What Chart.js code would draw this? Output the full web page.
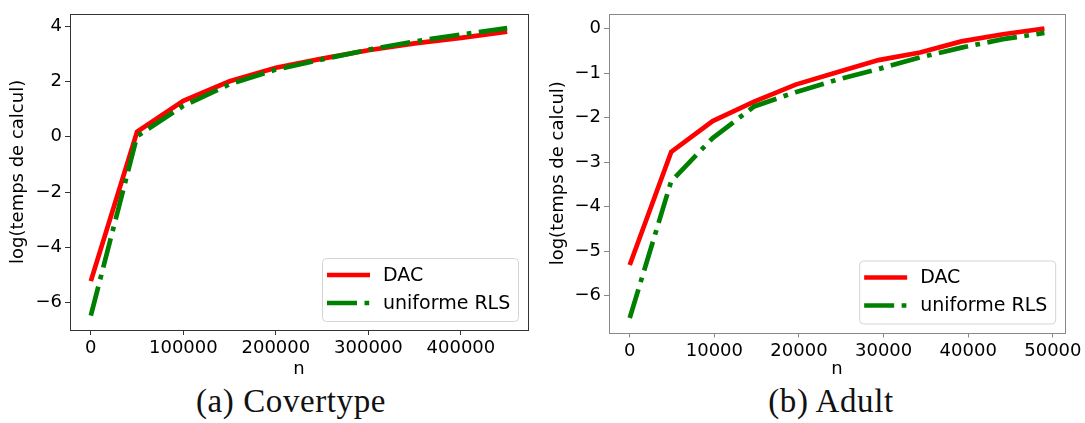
<!DOCTYPE html>
<html>
<head>
<meta charset="utf-8">
<script src="https://cdn.jsdelivr.net/npm/chart.js@4.4.0/dist/chart.umd.min.js"></script>
<style>
  body { margin: 0; background: #fff; width: 1085px; height: 423px; position: relative; overflow: hidden; }
  .graf { position: absolute; top: 0; width: 545px; height: 380px; }
  .legenda { position: absolute; top: 385px; font-family: 'Liberation Serif'; font-size: 33px; line-height: 33px; letter-spacing: 0.6px; color: #111; white-space: nowrap; transform: translateX(-50%); }
</style>
</head>
<body>
<div class="graf" style="left:0"><canvas id="chartCover" width="545" height="380"></canvas></div>
<div class="graf" style="left:540px"><canvas id="chartAdult" width="545" height="380"></canvas></div>
<div class="legenda" style="left:291px">(a) Covertype</div>
<div class="legenda" style="left:831px">(b) Adult</div>
<script>
// dados
var nomesSeries = ['DAC', 'uniforme RLS']

var nCover = [0, 50000, 100000, 150000, 200000, 250000, 300000, 350000, 400000, 450000]
var dacCover = [-5.22, 0.18, 1.30, 2.01, 2.50, 2.83, 3.13, 3.38, 3.58, 3.80]
var rlsCover = [-6.47, 0.02, 1.12, 1.90, 2.43, 2.80, 3.15, 3.45, 3.70, 3.93]
var xTicksCover = [0, 100000, 200000, 300000, 400000]
var yTicksCover = [-6, -4, -2, 0, 2, 4]

var nAdult = [0, 4900, 9800, 14700, 19600, 24500, 29400, 34300, 39200, 44100, 49000]
var dacAdult = [-5.31, -2.77, -2.08, -1.64, -1.26, -0.98, -0.71, -0.54, -0.29, -0.13, 0.0]
var rlsAdult = [-6.50, -3.43, -2.46, -1.75, -1.43, -1.15, -0.91, -0.65, -0.43, -0.24, -0.10]
var xTicksAdult = [0, 10000, 20000, 30000, 40000, 50000]
var yTicksAdult = [-6, -5, -4, -3, -2, -1, 0]

var fonte = { family: 'DejaVu Sans', size: 18 }

function pontos(xs, ys) {
    var lista = []
    for (let i = 0; i < xs.length; i++) {
        lista.push({ x: xs[i], y: ys[i] })
    }
    return lista
}

// margem de 5% como no matplotlib
function limites(arrays) {
    var todos = [].concat.apply([], arrays)
    var min = Math.min.apply(null, todos)
    var max = Math.max.apply(null, todos)
    var m = (max - min) * 0.05
    return [min - m, max + m]
}

function rotulo(v) {
    return v < 0 ? '\u2212' + Math.abs(v) : String(v)
}

// moldura do eixo + legenda dentro da area (canto inferior direito)
var moldura = {
    id: 'moldura',
    afterDatasetsDraw(chart, args, opts) {
        var ctx = chart.ctx
        var a = chart.chartArea
        ctx.save()
        ctx.strokeStyle = opts.cor
        ctx.lineWidth = 1
        ctx.strokeRect(Math.round(a.left) + 0.5, Math.round(a.top) + 0.5, Math.round(a.right - a.left), Math.round(a.bottom - a.top))

        var w = 196, h = 63
        var x0 = a.right - 10 - w
        var y0 = a.bottom - 9 - h
        ctx.beginPath()
        ctx.roundRect(x0 + 0.5, y0 + 0.5, w, h, 4)
        ctx.fillStyle = 'rgba(255,255,255,0.8)'
        ctx.fill()
        ctx.strokeStyle = '#d4d4d4'
        ctx.stroke()

        ctx.font = '19px "DejaVu Sans"'
        ctx.textBaseline = 'middle'
        ctx.fillStyle = '#000'
        chart.data.datasets.forEach(function (ds, i) {
            var y = y0 + 17 + i * 28
            ctx.beginPath()
            ctx.setLineDash(ds.borderDash || [])
            ctx.lineDashOffset = 0
            ctx.strokeStyle = ds.borderColor
            ctx.lineWidth = ds.borderWidth
            ctx.moveTo(x0 + 5, y)
            ctx.lineTo(x0 + 48, y)
            ctx.stroke()
            ctx.setLineDash([])
            ctx.fillText(ds.label, x0 + 61, y + 1)
        })
        ctx.restore()
    }
}

function montarGrafico(id, n, dac, rls, xTicks, yTicks, caixa) {
    var lx = limites([n])
    var ly = limites([dac, rls])
    return new Chart(document.getElementById(id), {
        type: 'line',
        data: {
            datasets: [{
                label: nomesSeries[0],
                data: pontos(n, dac),
                borderColor: '#ff0000',
                borderWidth: 4.7,
                pointRadius: 0,
                tension: 0,
                order: 1
            }, {
                label: nomesSeries[1],
                data: pontos(n, rls),
                borderColor: '#008000',
                borderWidth: 4.7,
                borderDash: [30, 7.5, 4.7, 7.5],
                pointRadius: 0,
                tension: 0,
                order: 0
            }]
        },
        plugins: [moldura],
        options: {
            responsive: false,
            animation: false,
            layout: { padding: { top: caixa.top, right: caixa.right, left: 0, bottom: 0 } },
            scales: {
                x: {
                    type: 'linear',
                    min: lx[0],
                    max: lx[1],
                    afterBuildTicks: function (s) { s.ticks = xTicks.map(function (v) { return { value: v } }) },
                    afterFit: function (s) { s.height = caixa.xAltura },
                    grid: { drawOnChartArea: false, drawTicks: true, tickLength: 5, color: caixa.cor },
                    border: { display: false },
                    ticks: { font: fonte, color: '#000', padding: 3, maxRotation: 0, autoSkip: false, callback: function (v) { return String(v) } },
                    title: { display: true, text: 'n', font: fonte, color: '#000', padding: { top: 0, bottom: 0 } }
                },
                y: {
                    min: ly[0],
                    max: ly[1],
                    afterBuildTicks: function (s) { s.ticks = yTicks.map(function (v) { return { value: v } }) },
                    afterFit: function (s) { s.width = caixa.yLargura },
                    grid: { drawOnChartArea: false, drawTicks: true, tickLength: 5, color: caixa.cor },
                    border: { display: false },
                    ticks: { font: fonte, color: '#000', padding: 3, autoSkip: false, callback: rotulo },
                    title: { display: true, text: 'log(temps de calcul)', font: fonte, color: '#000', padding: { top: 8, bottom: 0 } }
                }
            },
            plugins: {
                legend: { display: false },
                tooltip: { enabled: false },
                moldura: { cor: caixa.cor }
            }
        }
    })
}

var graficoCover = montarGrafico('chartCover', nCover, dacCover, rlsCover, xTicksCover, yTicksCover,
    { top: 11, right: 17, yLargura: 70, xAltura: 50, cor: '#333' })
var graficoAdult = montarGrafico('chartAdult', nAdult, dacAdult, rlsAdult, xTicksAdult, yTicksAdult,
    { top: 14, right: 18, yLargura: 69, xAltura: 47.5, cor: '#888' })
</script>
</body>
</html>
